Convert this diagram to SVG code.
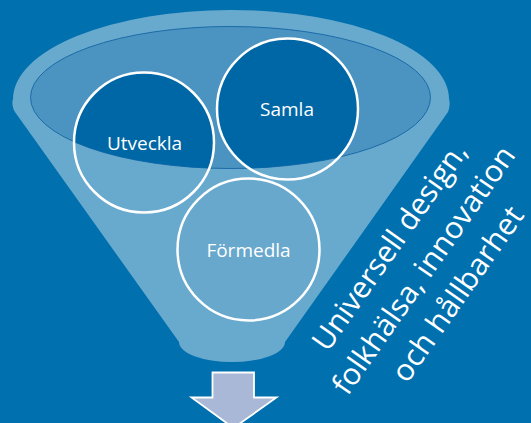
<svg xmlns="http://www.w3.org/2000/svg" width="531" height="423" viewBox="0 0 531 423">
<style>
.lbl{font-family:"Open Sans","Noto Sans",sans-serif;font-size:19px;fill:#FFFFFF;text-anchor:middle}
.side{font-family:"Open Sans","Noto Sans",sans-serif;font-size:30px;fill:#FFFFFF;text-anchor:middle}
.ring{fill:none;stroke:#FFFFFF;stroke-width:2.5}
</style>
<defs>
<clipPath id="bowl"><ellipse cx="230.5" cy="97.5" rx="200" ry="71"/></clipPath>
</defs>
<rect width="531" height="423" fill="#0070AF"/>
<g id="funnel">
<path d="M 15,112 C 12,107 12,102 13,99 A 218,89 0 0 1 449,99 C 450,102 450,107 448,112 L 285,342 A 53,20 0 0 1 179,342 Z" fill="#68AACE"/>
<ellipse cx="230.5" cy="97.5" rx="200" ry="71" fill="#4B94C1" stroke="#1C6BA8" stroke-width="1"/>
</g>
<g id="utveckla">
<circle cx="144" cy="142.5" r="70" fill="#0067A6" clip-path="url(#bowl)"/>
<circle cx="144" cy="142.5" r="70" class="ring"/>
<text x="144.5" y="150" class="lbl">Utveckla</text>
</g>
<g id="samla">
<circle cx="287.5" cy="109" r="70.5" fill="#0067A6" clip-path="url(#bowl)"/>
<circle cx="287.5" cy="109" r="70.5" class="ring"/>
<text x="287" y="116" class="lbl">Samla</text>
</g>
<g id="formedla">
<circle cx="248.5" cy="249.5" r="71" class="ring" style="fill:#68A8CD"/>
<text x="248.5" y="257" class="lbl">Förmedla</text>
</g>
<g id="connectors">
<path d="M 212.5,372.5 L 254,372.5 L 254,397.5 L 276.5,397.5 L 233.5,428 L 191.5,397.5 L 212.5,397.5 Z" fill="#A9B8D6" stroke="#FFFFFF" stroke-width="1.8" stroke-linejoin="miter"/>
</g>
<g id="side-text" transform="translate(432,276) rotate(-55)">
<text x="0" y="-41.5" class="side" textLength="246" lengthAdjust="spacingAndGlyphs">Universell design,</text>
<text x="0" y="0" class="side" textLength="295" lengthAdjust="spacingAndGlyphs">folkhälsa, innovation</text>
<text x="0" y="41.5" class="side" textLength="206" lengthAdjust="spacingAndGlyphs">och hållbarhet</text>
</g>
</svg>
